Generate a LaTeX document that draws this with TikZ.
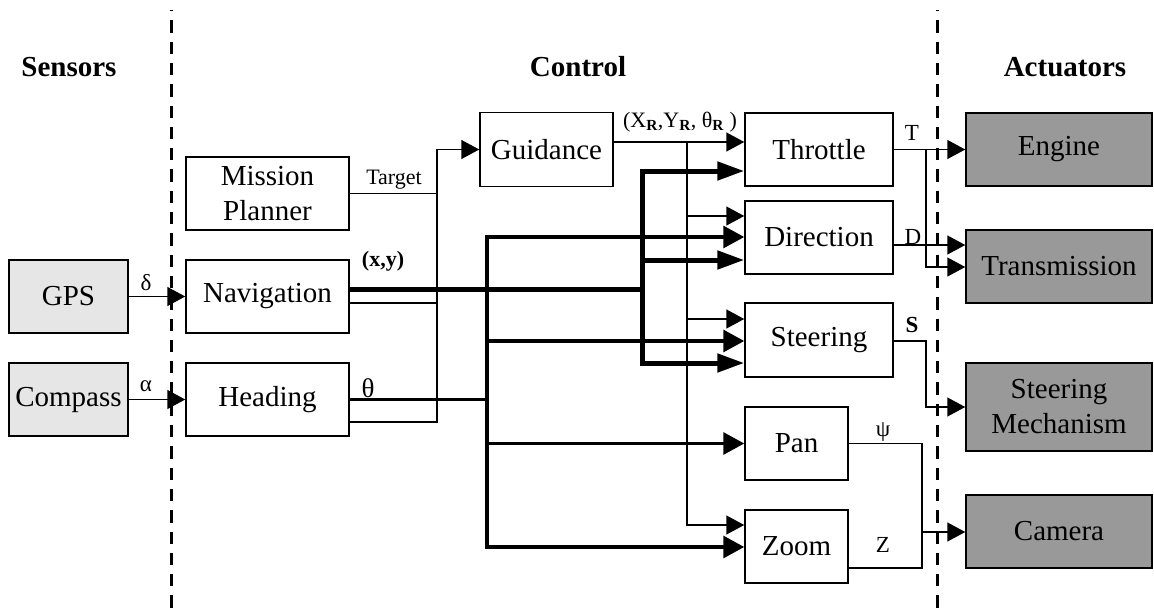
\documentclass[tikz,border=0pt]{standalone}
\usepackage{fontspec}
\setmainfont{Liberation Serif}
\usetikzlibrary{arrows.meta,calc}
\definecolor{sensorgray}{HTML}{E6E6E6}
\definecolor{actgray}{HTML}{999999}
\begin{document}
\begin{tikzpicture}[x=1pt,y=-1pt,
  blk/.style={draw,line width=1.5pt,rectangle,inner sep=0pt,align=center,
    font=\fontsize{29}{35}\selectfont,minimum height=73pt},
  sens/.style={blk,fill=sensorgray},
  act/.style={blk,fill=actgray},
  hdr/.style={font=\fontsize{29}{35}\selectfont\bfseries,inner sep=0pt},
  lbl/.style={font=\fontsize{23}{26}\selectfont,inner sep=0pt},
  sepline/.style={line width=3pt,dash pattern=on 12.3pt off 9pt,dash phase=11pt},
  thinl/.style={line width=1.5pt},
  thinarr/.style={line width=1.5pt,-{Triangle[length=18pt,width=19pt]}},
  medl/.style={line width=3.2pt},
  medarr/.style={line width=3.2pt,-{Triangle[length=21pt,width=22pt]}},
  heavyl/.style={line width=5pt},
  heavyarr/.style={line width=5pt,-{Triangle[length=27pt,width=18pt]}}
]
\useasboundingbox (0,0) rectangle (1154,611);

% separators
\draw[sepline] (171.5,10) -- (171.5,611);
\draw[sepline] (937,10) -- (937,611);

% headers
\node[hdr] (hsens) at (69,67) {Sensors};
\node[hdr] (hctrl) at (578,67) {Control};
\node[hdr] (hact) at (1065,67) {Actuators};

% sensors
\node[sens,minimum width=119pt] (gps) at (68.5,296.5) {GPS};
\node[sens,minimum width=119pt] (compass) at (68.5,399.5) {Compass};

% control
\node[blk,minimum width=163pt] (mission) at (267.5,193.5) {Mission\\Planner};
\node[blk,minimum width=163pt] (nav) at (267.5,296.5) {Navigation};
\node[blk,minimum width=163pt] (heading) at (267.5,399.5) {Heading};
\node[blk,minimum width=133pt,minimum height=74pt] (guidance) at (546.5,149.5) {Guidance};
\node[blk,minimum width=148pt] (throttle) at (819,149.5) {Throttle};
\node[blk,minimum width=148pt] (direction) at (819,237.5) {Direction};
\node[blk,minimum width=148pt,minimum height=74pt] (steering) at (819,340) {Steering};
\node[blk,minimum width=103pt] (pan) at (796.5,443.5) {Pan};
\node[blk,minimum width=103pt] (zoom) at (796.5,546.5) {Zoom};

% actuators
\node[act,minimum width=186pt] (engine) at (1059,149.5) {Engine};
\node[act,minimum width=186pt] (transmission) at (1059,266.5) {Transmission};
\node[act,minimum width=186pt,minimum height=88pt] (steermech) at (1059,407) {Steering\\Mechanism};
\node[act,minimum width=186pt] (camera) at (1059,531.5) {Camera};

% junction coordinates
\coordinate (tb1) at (437,149.5);
\coordinate (tb2) at (437,422);
\coordinate (gb1) at (687,142);
\coordinate (gb2) at (687,525);
\coordinate (xb1) at (642,171);
\coordinate (xb2) at (642,363);
\coordinate (hb1) at (487,237);
\coordinate (hb2) at (487,547);
\coordinate (tk) at (926,149.5);
\coordinate (sk) at (926,341);
\coordinate (ck1) at (922,443.5);
\coordinate (ck2) at (922,568);
\coordinate (ck) at (922,532);

% sensor inputs
\draw[thinarr] (gps.east) -- (nav.west);
\draw[thinarr] (compass.east) -- (heading.west);

% guidance inputs
\draw[thinl] (mission.east) -- (mission.east -| tb1);
\draw[thinl] (nav.east |- 0,303) -- (tb1 |- 0,303);
\draw[thinarr] (heading.east |- tb2) -- (tb2) -- (tb1) -- (guidance.west);

% guidance outputs
\draw[thinarr] (guidance.east |- gb1) -- (throttle.west |- gb1);
\draw[thinarr] (gb1) -- (gb2) -- (zoom.west |- gb2);
\draw[thinarr] (gb1 |- 0,216) -- (direction.west |- 0,216);
\draw[thinarr] (gb1 |- 0,319) -- (steering.west |- 0,319);

% heading (theta) bus
\draw[medl] (heading.east) -- (hb1 |- heading.east);
\draw[medarr] (hb2) -- (hb1) -- (direction.west |- hb1);
\draw[medarr] (hb1) -- (hb2) -- (zoom.west |- hb2);
\draw[medarr] (hb1 |- 0,341) -- (steering.west |- 0,341);
\draw[medarr] (hb1 |- pan.west) -- (pan.west);

% navigation (x,y) bus
\draw[heavyl] (nav.east |- 0,289) -- (xb1 |- 0,289);
\draw[heavyarr] (xb2) -- (xb1) -- (throttle.west |- xb1);
\draw[heavyarr] (xb1) -- (xb2) -- (steering.west |- xb2);
\draw[heavyarr] (xb1 |- 0,260) -- (direction.west |- 0,260);

% outputs to actuators
\draw[thinarr] (throttle.east) -- (engine.west);
\draw[thinarr] (tk) -- (tk |- 0,267) -- (transmission.west |- 0,267);
\draw[thinarr] (direction.east |- 0,245) -- (transmission.west |- 0,245);
\draw[thinarr] (steering.east |- sk) -- (sk) -- (sk |- steermech.west) -- (steermech.west);
\draw[thinl] (pan.east) -- (ck1) -- (ck2) -- (zoom.east |- ck2);
\draw[thinarr] (ck) -- (camera.west |- ck);

% labels
\node[lbl] (ldelta) at (146,283) {δ};
\node[lbl] (lalpha) at (146,386) {α};
\node[lbl,font=\fontsize{22}{24}\selectfont] (ltarget) at (394,180) {Target};
\node[lbl,font=\fontsize{22}{24}\selectfont\bfseries] (lxy) at (383,261) {(x,y)};
\node[lbl,font=\fontsize{27}{30}\selectfont] (ltheta) at (368,388) {θ};
\node[lbl,font=\fontsize{22}{24}\selectfont] (lxyr) at (680,122) {(X\textsubscript{\bfseries R},Y\textsubscript{\bfseries R}, θ\textsubscript{\bfseries R} )};
\node[lbl] (lT) at (912,133) {T};
\node[lbl] (lD) at (913,237) {D};
\node[lbl,font=\fontsize{23}{26}\selectfont\bfseries] (lS) at (912,325) {S};
\node[lbl] (lpsi) at (883,432) {ψ};
\node[lbl] (lz) at (883,545) {Z};
\end{tikzpicture}
\end{document}
